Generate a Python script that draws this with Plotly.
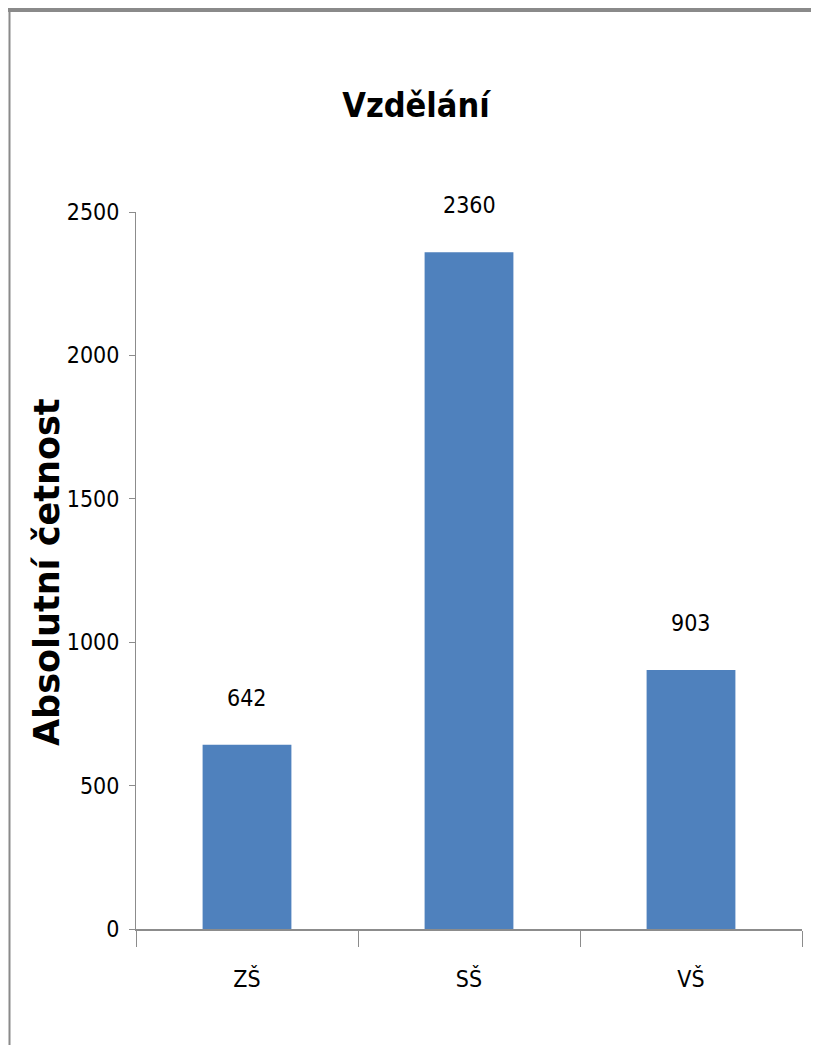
import plotly.graph_objects as go

categories = ["ZŠ", "SŠ", "VŠ"]
values = [642, 2360, 903]
y_ticks = [0, 500, 1000, 1500, 2000, 2500]

NARROW = "Liberation Sans Narrow, DejaVu Sans Condensed, Arial Narrow, sans-serif"
# target page geometry (window pixels) and the page's 8px body offset
WIN_W, WIN_H = 819, 1045
OX, OY = 8, 8
W, H = WIN_W - OX, WIN_H - OY
L, R, T, B = 136 - OX, 17, 212 - OY, 116
pw, ph = W - L - R, H - T - B


def px_x(x):  # window x -> paper x
    return (x - OX - L) / pw


def px_y(y):  # window y -> paper y
    return (H - B - (y - OY)) / ph


fig = go.Figure()
fig.add_trace(go.Bar(
    x=categories, y=values,
    marker=dict(color="#4F81BD", line=dict(width=0)),
    hoverinfo="x+y",
))

for c, v in zip(categories, values):
    fig.add_annotation(x=c, y=v, text=str(v), showarrow=False, yanchor="bottom",
                       yshift=32, font=dict(family=NARROW, size=23, color="#000000"))

# axis title
fig.add_annotation(xref="paper", yref="paper", x=px_x(47), y=px_y(572),
                   text="<b>Absolutní četnost</b>", textangle=-90, showarrow=False,
                   xanchor="center", yanchor="middle",
                   font=dict(family="DejaVu Sans, sans-serif", size=35, color="#000000"))

# chart-area border (top and left)
fig.add_shape(type="line", xref="paper", yref="paper",
              x0=px_x(8), x1=px_x(WIN_W + 5), y0=px_y(10), y1=px_y(10),
              line=dict(color="#8a8a8a", width=4))
fig.add_shape(type="line", xref="paper", yref="paper",
              x0=px_x(9.5), x1=px_x(9.5), y0=px_y(10), y1=px_y(WIN_H + 5),
              line=dict(color="#8a8a8a", width=2))

fig.update_layout(
    width=W, height=H,
    margin=dict(l=L, r=R, t=T, b=B, autoexpand=False),
    paper_bgcolor="white", plot_bgcolor="white",
    showlegend=False,
    bargap=0.6,
    title=dict(text="<b>Vzdělání</b>", x=(416 - OX) / W, y=1 - (105 - OY) / H,
               xanchor="center", yanchor="middle",
               font=dict(family=NARROW, size=34, color="#000000")),
    xaxis=dict(
        showline=True, linecolor="#8c8c8c", linewidth=2,
        ticks="outside", tickson="boundaries", ticklen=16, tickcolor="#8c8c8c", tickwidth=1,
        tickfont=dict(family=NARROW, size=23, color="#000000"),
        ticklabelstandoff=28,
        showgrid=False, zeroline=False,
    ),
    yaxis=dict(
        range=[0, 2500], tickvals=y_ticks,
        showline=True, linecolor="#8c8c8c", linewidth=1,
        ticks="outside", ticklen=6, tickcolor="#8c8c8c",
        tickfont=dict(family=NARROW, size=23, color="#000000"),
        ticklabelstandoff=5,
        showgrid=False, zeroline=False,
    ),
)

fig.write_html("out.html")
